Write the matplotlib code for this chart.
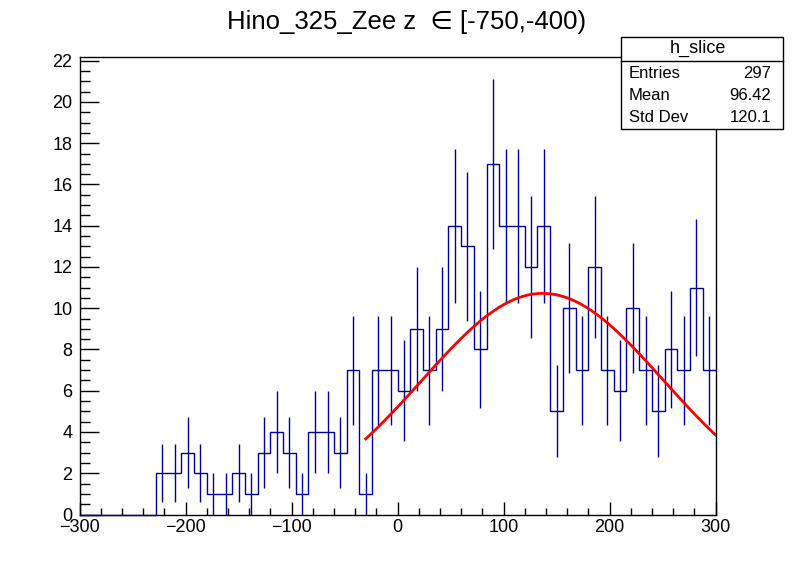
import numpy as np
import matplotlib
matplotlib.use("Agg")
import matplotlib.pyplot as plt
from matplotlib.patches import Rectangle
from matplotlib.ticker import MultipleLocator

plt.rcParams['font.family'] = ['Liberation Sans', 'DejaVu Sans']

# histogram h_slice: 50 bins from -300 to 300
bin_edges = np.linspace(-300, 300, 51)
counts = [0, 0, 0, 0, 0, 0, 2, 2, 3, 2,
          1, 1, 2, 1, 3, 4, 3, 1, 4, 4,
          3, 7, 1, 7, 7, 6, 9, 7, 9, 14,
          13, 8, 17, 14, 14, 12, 14, 5, 10, 7,
          12, 7, 6, 10, 7, 5, 8, 7, 11, 7]

# gaussian fit parameters
fit_amp = 10.72
fit_mean = 137.0
fit_sigma = 114.0
fit_range = (-30, 300)

stats_names = ["Entries", "Mean", "Std Dev"]
stats_values = ["297", "96.42", "120.1"]

W, H = 796, 572
fig = plt.figure(figsize=(W / 100, H / 100), dpi=100)
ax = fig.add_axes([79.5 / W, (H - 514.5) / H, (715.5 - 79.5) / W, (514.5 - 57) / H])

counts = np.array(counts, dtype=float)
centers = 0.5 * (bin_edges[1:] + bin_edges[:-1])
hcol = '#000099'

ax.stairs(counts, bin_edges, baseline=None, color=hcol, lw=1.0, zorder=3, clip_on=False)
nz = counts > 0
err = np.sqrt(counts[nz])
ax.vlines(centers[nz], np.clip(counts[nz] - err, 0, None), counts[nz] + err,
          color=hcol, lw=1.0, zorder=3)

xf = np.linspace(fit_range[0], fit_range[1], 100)
yf = fit_amp * np.exp(-0.5 * ((xf - fit_mean) / fit_sigma) ** 2)
ax.plot(xf, yf, color='red', lw=2.0, zorder=4)

ax.set_xlim(-300, 300)
ax.set_ylim(0, 22.18)
ax.xaxis.set_major_locator(MultipleLocator(100))
ax.xaxis.set_minor_locator(MultipleLocator(20))
ax.yaxis.set_major_locator(MultipleLocator(2))
ax.yaxis.set_minor_locator(MultipleLocator(0.5))
ax.tick_params(axis='both', which='both', direction='in', top=False, right=False,
               labelsize=13, width=1.0, color='black')
ax.tick_params(axis='x', which='major', length=9.5, pad=3)
ax.tick_params(axis='x', which='minor', length=5.2)
ax.tick_params(axis='y', which='major', length=13.5, pad=5)
ax.tick_params(axis='y', which='minor', length=7.0)
for s in ax.spines.values():
    s.set_linewidth(1.0)

# title
fig.text(407 / W, 1 - 22 / H, "Hino_325_Zee z  \u2208 [-750,-400)",
         ha='center', va='center', fontsize=18.5)

# stats box
bx0, bx1, by0, by1 = 620.7, 783.3, 37.3, 129.0
fig.add_artist(Rectangle((bx0 / W, 1 - by1 / H), (bx1 - bx0) / W, (by1 - by0) / H,
                         transform=fig.transFigure, facecolor='white',
                         edgecolor='black', lw=1.0, zorder=10))
fig.add_artist(plt.Line2D([bx0 / W, bx1 / W], [1 - 60.7 / H, 1 - 60.7 / H],
                          transform=fig.transFigure, color='black', lw=1.0, zorder=11))
fig.text(698 / W, 1 - 48.5 / H, "h_slice", ha='center', va='center',
         fontsize=13, zorder=12)
narrow = ['Liberation Sans Narrow', 'Liberation Sans', 'DejaVu Sans']
rows_y = [73.0, 95.5, 118.0]
for name, val, yy in zip(stats_names, stats_values, rows_y):
    fig.text(629 / W, 1 - yy / H, name, ha='left', va='center', fontsize=12,
             family=narrow, zorder=12)
    fig.text(771 / W, 1 - yy / H, val, ha='right', va='center', fontsize=12,
             family=narrow, zorder=12)

fig.savefig("out.png", dpi=100)
